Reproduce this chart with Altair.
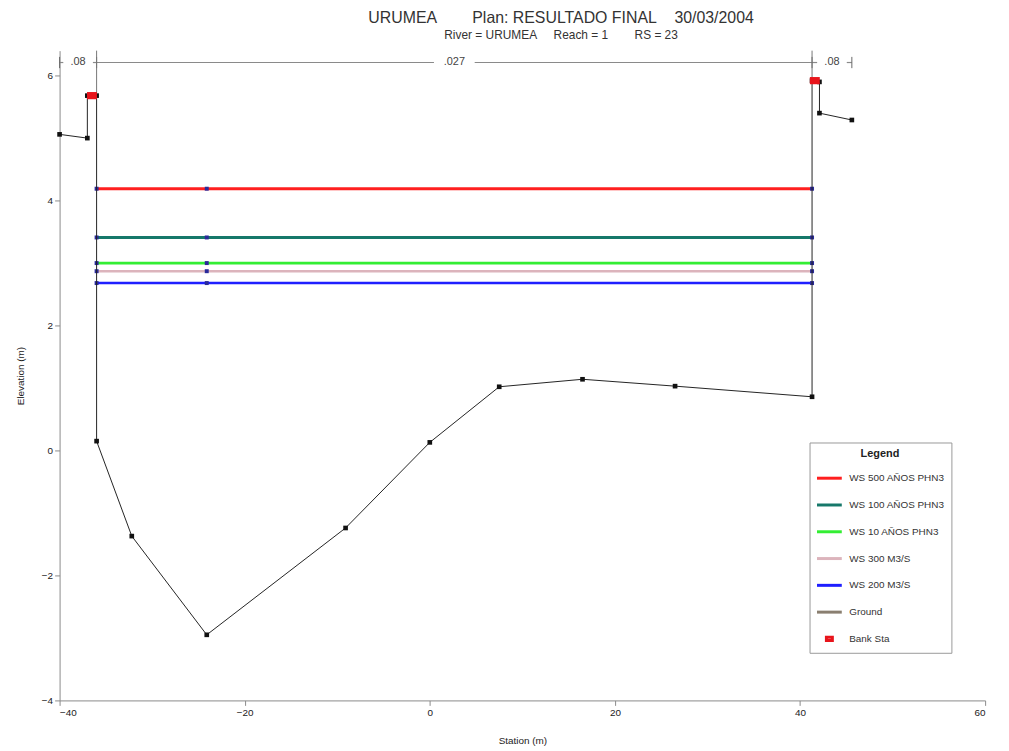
import altair as alt
import pandas as pd

# ---------------- data ----------------
ground_station = [-40.0, -37.0, -37.0, -36.0, -36.0, -32.2, -24.1, -9.1, 0.0, 7.5,
                  16.5, 26.5, 41.3, 41.3, 42.1, 42.1, 45.6]
ground_elev = [5.06, 5.00, 5.68, 5.68, 0.15, -1.37, -2.95, -1.24, 0.13, 1.02,
               1.14, 1.03, 0.86, 5.92, 5.90, 5.40, 5.29]

bank_station = [-36.5, 41.6]
bank_elev = [5.68, 5.92]

ws_names = ["WS 500 AÑOS PHN3", "WS 100 AÑOS PHN3", "WS 10 AÑOS PHN3",
            "WS 300 M3/S", "WS 200 M3/S"]
ws_elev = [4.19, 3.41, 3.00, 2.87, 2.68]
ws_left = -36.0
ws_right = 41.3
ws_marker_station = [-36.0, -24.1, 41.3]

n_breaks = [-40.0, -36.0, 41.3, 45.6]
n_values = [".08", ".027", ".08"]
n_level = 6.21

BANK_SHAPE = "M-0.24,-0.13H0.24V0.13H-0.24Z"
legend_names = ws_names + ["Ground", "Bank Sta"]
legend_colors = ["#ff1f1f", "#16786a", "#33ee33", "#dcb4bc", "#1f1fff", "#8a7f70", "#e8141b"]
legend_shapes = ["stroke"] * 6 + [BANK_SHAPE]
ws_widths = [3, 2.5, 3, 2, 2.5]

# ---------------- tables ----------------
ground = pd.DataFrame({"station": ground_station, "elev": ground_elev,
                       "order": list(range(len(ground_station)))})
bank = pd.DataFrame({"station": bank_station, "elev": bank_elev, "series": "Bank Sta"})

ws_rows = []
for name, e in zip(ws_names, ws_elev):
    ws_rows.append({"series": name, "station": ws_left, "elev": e})
    ws_rows.append({"series": name, "station": ws_right, "elev": e})
ws = pd.DataFrame(ws_rows)
ws_mk = pd.DataFrame([{"series": n, "station": s, "elev": e}
                      for n, e in zip(ws_names, ws_elev) for s in ws_marker_station])

# Manning's n bar at the top
n_seg = []
n_txt = []
for i, val in enumerate(n_values):
    a, b = n_breaks[i], n_breaks[i + 1]
    mid = (a + b) / 2
    g = 1.6 if len(val) < 4 else 2.2
    if mid - g > a:
        n_seg.append({"s": a, "s2": mid - g})
    if mid + g < b:
        n_seg.append({"s": mid + g, "s2": b})
    n_txt.append({"station": mid, "label": val})
n_seg = pd.DataFrame(n_seg)
n_seg["elev"] = n_level
n_txt = pd.DataFrame(n_txt)
n_txt["elev"] = n_level
n_tick = pd.DataFrame({"station": n_breaks, "lo": n_level - 0.09, "hi": n_level + 0.09})

wall = pd.DataFrame({"station": [ws_left, ws_right], "lo": [bank_elev[0], bank_elev[1]],
                     "hi": [6.4, 6.4]})

# ---------------- encodings ----------------
FONT = "Liberation Sans"
xs = alt.Scale(domain=[-40, 60], nice=False, zero=False)
ys = alt.Scale(domain=[-4, 6.4], nice=False, zero=False)
X = alt.X("station:Q", scale=xs,
          axis=alt.Axis(title="Station (m)", values=[-40, -20, 0, 20, 40, 60],
                        grid=False, titlePadding=18, format="d"))
Y = alt.Y("elev:Q", scale=ys,
          axis=alt.Axis(title="Elevation (m)", values=[-4, -2, 0, 2, 4, 6],
                        grid=False, titlePadding=16, format="d"))

legend = alt.Legend(
    title="Legend", orient="none", legendX=756, legendY=395, direction="vertical",
    symbolType="stroke", symbolSize=625, symbolStrokeWidth=3, labelOffset=6,
    fillColor="white", strokeColor="#999999", padding=6, titleAnchor="middle",
    titleFontSize=11, titleFontWeight="bold", titleFont=FONT, labelFont=FONT,
    labelFontSize=10, labelColor="#333333", titleColor="#222222", rowPadding=7,
    symbolOpacity=1)
C = alt.Color("series:N", scale=alt.Scale(domain=legend_names, range=legend_colors),
              legend=legend)

# ---------------- layers ----------------
n_lines = alt.Chart(n_seg).mark_rule(color="#8a8a8a", strokeWidth=1.2).encode(
    x=alt.X("s:Q", scale=xs), x2="s2:Q", y=alt.Y("elev:Q", scale=ys))
n_ticks = alt.Chart(n_tick).mark_rule(color="#666666", strokeWidth=1).encode(
    x=alt.X("station:Q", scale=xs), y=alt.Y("lo:Q", scale=ys), y2="hi:Q")
n_text = alt.Chart(n_txt).mark_text(font=FONT, fontSize=11, color="#444444").encode(
    x=alt.X("station:Q", scale=xs), y=alt.Y("elev:Q", scale=ys), text="label:N")
walls = alt.Chart(wall).mark_rule(color="#777777", strokeWidth=1).encode(
    x=alt.X("station:Q", scale=xs), y=alt.Y("lo:Q", scale=ys), y2="hi:Q")

ws_lines = alt.Chart(ws).mark_line().encode(
    x=X, y=Y, color=C,
    strokeWidth=alt.StrokeWidth("series:N", scale=alt.Scale(domain=ws_names, range=ws_widths),
                                legend=None))
ws_points = alt.Chart(ws_mk).mark_point(filled=True, shape="square", size=16,
                                        color="#2a2a9a", opacity=1).encode(
    x=alt.X("station:Q", scale=xs), y=alt.Y("elev:Q", scale=ys))

ground_line = alt.Chart(ground).mark_line(color="#222222", strokeWidth=1).encode(
    x=alt.X("station:Q", scale=xs), y=alt.Y("elev:Q", scale=ys), order="order:Q")
ground_pts = alt.Chart(ground).mark_point(filled=True, shape="square", size=22,
                                          color="#111111", opacity=1).encode(
    x=alt.X("station:Q", scale=xs), y=alt.Y("elev:Q", scale=ys))
bank_pts = alt.Chart(bank).mark_point(filled=False, size=625, strokeWidth=4, opacity=1).encode(
    x=alt.X("station:Q", scale=xs), y=alt.Y("elev:Q", scale=ys), color=C,
    shape=alt.Shape("series:N", scale=alt.Scale(domain=legend_names, range=legend_shapes),
                    legend=legend))

NB = "\u00a0"
chart = alt.layer(
    n_lines, n_ticks, walls, ws_lines, ws_points, ground_line, ground_pts, bank_pts, n_text
).properties(
    width=933, height=655,
    title=alt.Title(
        text="URUMEA" + NB * 8 + "Plan: RESULTADO FINAL" + NB * 4 + "30/03/2004",
        subtitle="River = URUMEA" + NB * 5 + "Reach = 1" + NB * 8 + "RS = 23",
        anchor="middle", dx=39, fontSize=16, fontWeight="normal", font=FONT,
        color="#333333", subtitleFont=FONT, subtitleFontSize=12, subtitleColor="#333333",
        subtitlePadding=4, offset=9),
    autosize=alt.AutoSizeParams(type="none"),
    padding={"left": 52, "top": 40, "right": 16, "bottom": 48},
).configure_view(stroke=None).configure_axis(
    labelFont=FONT, titleFont=FONT, labelFontSize=10, titleFontSize=10,
    labelColor="#222222", titleColor="#222222", titleFontWeight="normal",
    domainColor="#8a8a8a", tickColor="#8a8a8a", tickSize=5,
)

chart.save("out.html", embed_options={"renderer": "svg", "actions": False})
